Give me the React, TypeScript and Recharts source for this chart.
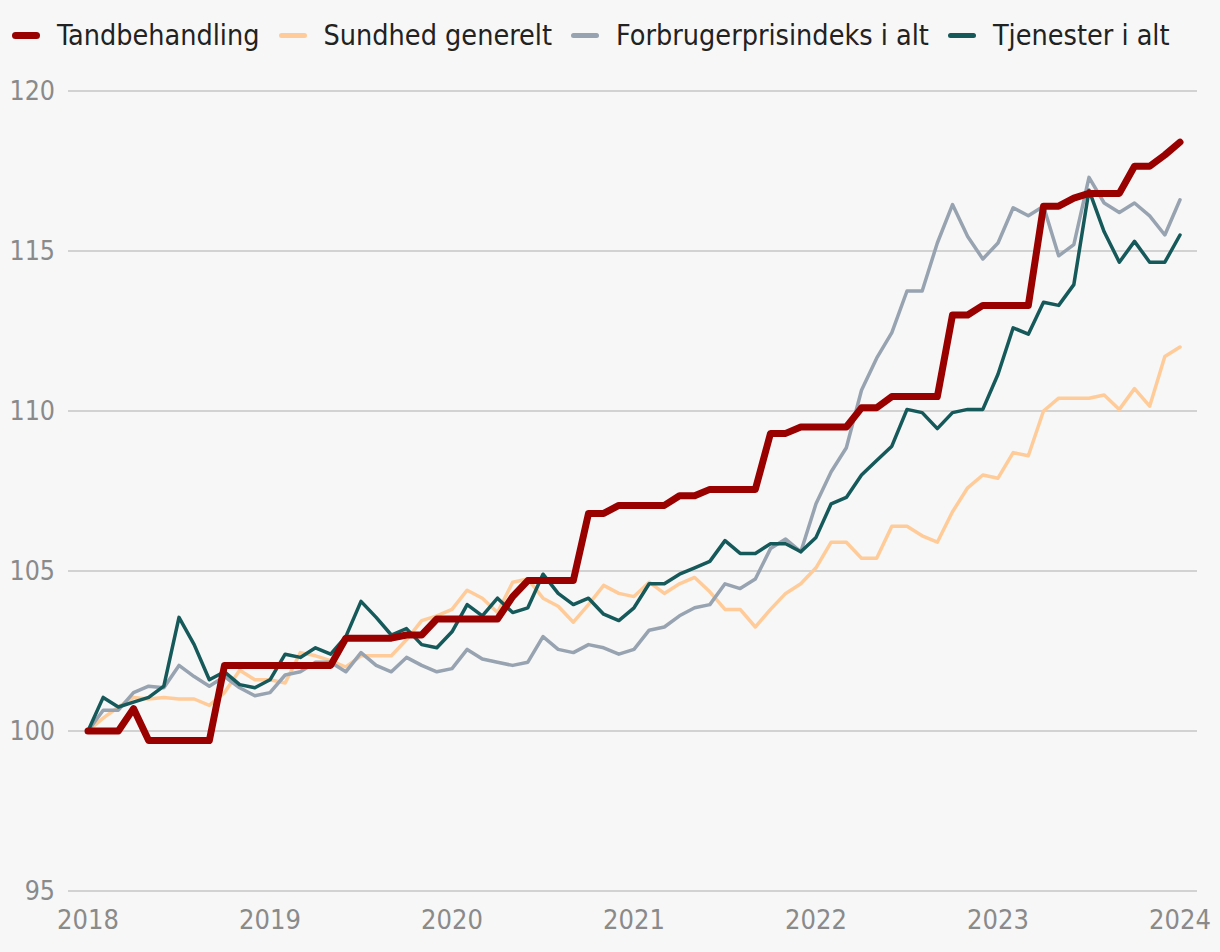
import { LineChart, Line, XAxis, YAxis, CartesianGrid } from 'recharts';

const FONT = "'DejaVu Sans Condensed', 'Liberation Sans Narrow', Roboto, sans-serif";

// x-axis tick labels (one per January, monthly data from Jan 2018 to Jan 2024)
const yearLabels = ['2018', '2019', '2020', '2021', '2022', '2023', '2024'];
const yTicks = [95, 100, 105, 110, 115, 120];

const tandbehandling = [
  100, 100, 100, 100.7, 99.7, 99.7, 99.7, 99.7, 99.7, 102.05, 102.05, 102.05,
  102.05, 102.05, 102.05, 102.05, 102.05, 102.9, 102.9, 102.9, 102.9, 103.0, 103.0, 103.5,
  103.5, 103.5, 103.5, 103.5, 104.2, 104.7, 104.7, 104.7, 104.7, 106.8, 106.8, 107.05,
  107.05, 107.05, 107.05, 107.35, 107.35, 107.55, 107.55, 107.55, 107.55, 109.3, 109.3, 109.5,
  109.5, 109.5, 109.5, 110.1, 110.1, 110.45, 110.45, 110.45, 110.45, 113.0, 113.0, 113.3,
  113.3, 113.3, 113.3, 116.4, 116.4, 116.65, 116.8, 116.8, 116.8, 117.65, 117.65, 118.0,
  118.4,
];

const sundhed = [
  100, 100.4, 100.75, 101.05, 101.0, 101.05, 101.0, 101.0, 100.8, 101.2, 101.9, 101.6,
  101.6, 101.5, 102.45, 102.35, 102.2, 102.0, 102.35, 102.35, 102.35, 102.85, 103.45, 103.6,
  103.8, 104.4, 104.15, 103.7, 104.65, 104.75, 104.15, 103.9, 103.4, 103.95, 104.55, 104.3,
  104.2, 104.65, 104.3, 104.6, 104.8, 104.35, 103.8, 103.8, 103.25, 103.8, 104.3, 104.6,
  105.1, 105.9, 105.9, 105.4, 105.4, 106.4, 106.4, 106.1, 105.9, 106.85, 107.6, 108.0,
  107.9, 108.7, 108.6, 110.0, 110.4, 110.4, 110.4, 110.5, 110.05, 110.7, 110.15, 111.7,
  112.0,
];

const forbrugerprisindeks = [
  100, 100.65, 100.65, 101.2, 101.4, 101.35, 102.05, 101.7, 101.4, 101.7, 101.35, 101.1,
  101.2, 101.75, 101.85, 102.15, 102.15, 101.85, 102.45, 102.05, 101.85, 102.3, 102.05, 101.85,
  101.95, 102.55, 102.25, 102.15, 102.05, 102.15, 102.95, 102.55, 102.45, 102.7, 102.6, 102.4,
  102.55, 103.15, 103.25, 103.6, 103.85, 103.95, 104.6, 104.45, 104.75, 105.7, 106.0, 105.6,
  107.1, 108.1, 108.85, 110.65, 111.65, 112.45, 113.75, 113.75, 115.25, 116.45, 115.45, 114.75,
  115.25, 116.35, 116.1, 116.4, 114.85, 115.2, 117.3, 116.5, 116.2, 116.5, 116.1, 115.5,
  116.6,
];

const tjenester = [
  100, 101.05, 100.75, 100.9, 101.05, 101.4, 103.55, 102.7, 101.6, 101.85, 101.45, 101.35,
  101.6, 102.4, 102.3, 102.6, 102.4, 102.95, 104.05, 103.55, 103.0, 103.2, 102.7, 102.6,
  103.1, 103.95, 103.6, 104.15, 103.7, 103.85, 104.9, 104.3, 103.95, 104.15, 103.65, 103.45,
  103.85, 104.6, 104.6, 104.9, 105.1, 105.3, 105.95, 105.55, 105.55, 105.85, 105.85, 105.6,
  106.05, 107.1, 107.3, 108.0, 108.45, 108.9, 110.05, 109.95, 109.45, 109.95, 110.05, 110.05,
  111.15, 112.6, 112.4, 113.4, 113.3, 113.95, 116.9, 115.6, 114.65, 115.3, 114.65, 114.65,
  115.5,
];

const series = [
  { key: 'tand', name: 'Tandbehandling', color: '#990000', width: 7 },
  { key: 'sundhed', name: 'Sundhed generelt', color: '#ffcc99', width: 3.5 },
  { key: 'fpi', name: 'Forbrugerprisindeks i alt', color: '#97a3b0', width: 3.5 },
  { key: 'tjen', name: 'Tjenester i alt', color: '#15595a', width: 3.5 },
];

const data = tandbehandling.map((v, i) => ({
  month: i,
  tand: v,
  sundhed: sundhed[i],
  fpi: forbrugerprisindeks[i],
  tjen: tjenester[i],
}));

const xTicks = yearLabels.map((_, i) => i * 12);

function LegendRow() {
  return (
    <div
      style={{
        position: 'absolute',
        top: 19,
        left: 12,
        display: 'flex',
        alignItems: 'center',
        fontFamily: FONT,
        fontSize: 28.5,
        color: '#222',
        whiteSpace: 'nowrap',
      }}
    >
      {series.map((s) => (
        <div key={s.key} style={{ display: 'flex', alignItems: 'center', marginRight: 19 }}>
          <span
            style={{
              display: 'inline-block',
              width: 28,
              height: s.key === 'tand' ? 7 : 5,
              borderRadius: 4,
              background: s.color,
              marginRight: 17,
            }}
          />
          <span>{s.name}</span>
        </div>
      ))}
    </div>
  );
}

export default function App() {
  const drawOrder = ['sundhed', 'fpi', 'tjen', 'tand'];
  return (
    <div
      style={{
        position: 'absolute',
        left: 0,
        top: 0,
        width: 1220,
        height: 952,
        background: '#f7f7f7',
        overflow: 'hidden',
      }}
    >
      <LegendRow />
      <LineChart width={1220} height={952} data={data} margin={{ top: 91, right: 23, bottom: 21, left: 0 }}>
        <CartesianGrid vertical={false} stroke="#c6c6c6" strokeWidth={1.5} />
        <XAxis
          dataKey="month"
          type="number"
          domain={[0, 72]}
          ticks={xTicks}
          interval={0}
          padding={{ left: 20, right: 17 }}
          tickFormatter={(v) => yearLabels[Math.round(v / 12)]}
          axisLine={false}
          tickLine={false}
          tickSize={0}
          tickMargin={19}
          height={40}
          tick={{ fill: '#8a8a8a', fontSize: 27, fontFamily: FONT }}
        />
        <YAxis
          domain={[95, 120]}
          ticks={yTicks}
          interval={0}
          axisLine={false}
          tickLine={false}
          tickSize={0}
          tickMargin={13}
          width={68}
          tick={{ fill: '#8a8a8a', fontSize: 26.5, fontFamily: FONT }}
        />
        {drawOrder.map((k) => {
          const s = series.find((x) => x.key === k)!;
          return (
            <Line
              key={s.key}
              dataKey={s.key}
              name={s.name}
              type="linear"
              stroke={s.color}
              strokeWidth={s.width}
              strokeLinecap="round"
              strokeLinejoin="round"
              dot={false}
              activeDot={false}
              isAnimationActive={false}
            />
          );
        })}
      </LineChart>
    </div>
  );
}
